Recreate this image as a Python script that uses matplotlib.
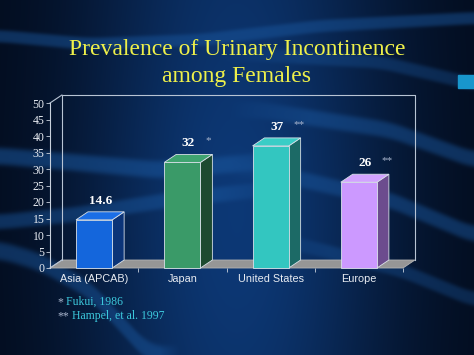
import numpy as np
import matplotlib
matplotlib.use("Agg")
import matplotlib.pyplot as plt
from matplotlib.patches import Polygon, Rectangle

categories = ["Asia (APCAB)", "Japan", "United States", "Europe"]
values = [14.6, 32, 37, 26]
value_labels = ["14.6", "32", "37", "26"]
markers = ["", "*", "**", "**"]
front_colors = ["#1466dc", "#3a9a68", "#33c6c0", "#cc99ff"]
side_colors = ["#0b3478", "#1d4a30", "#1c6a66", "#6c4c8e"]
top_colors = ["#1a6ee6", "#3fa470", "#3acdc6", "#d2a2ff"]
yticks = list(range(0, 55, 5))
title = "Prevalence of Urinary Incontinence\namong Females"
notes = [("*", " Fukui, 1986"), ("**", " Hampel, et al. 1997")]

W, H = 474, 355
fig = plt.figure(figsize=(W / 100, H / 100), dpi=100)

# ---------- background ----------
bg = fig.add_axes([0, 0, 1, 1])
bg.set_xlim(0, W)
bg.set_ylim(H, 0)
bg.axis("off")
X, Y = np.meshgrid(np.arange(W) + 0.5, np.arange(H) + 0.5)
xn, yn = X / W, Y / H
t = np.exp(-((xn - 0.5) / 0.33) ** 2) * (0.75 + 0.25 * np.exp(-((yn - 0.6) / 0.6) ** 2))
dark = np.array([0.01, 0.04, 0.10])
light = np.array([0.05, 0.22, 0.46])
img = dark[None, None, :] + (light - dark)[None, None, :] * t[..., None]
bandcol = np.array([0.10, 0.34, 0.62])

def band(pts, thick, strength, x0, x1, soft=40):
    global img
    px = np.array([p[0] for p in pts], float)
    py = np.array([p[1] for p in pts], float)
    xs = np.arange(W) + 0.5
    yc = np.interp(xs, px, py)
    k = np.ones(31) / 31
    yc = np.convolve(np.pad(yc, 15, mode="edge"), k, mode="valid")
    fade = np.clip((xs - x0) / soft + 1, 0, 1) * np.clip((x1 - xs) / soft + 1, 0, 1)
    prof = np.exp(-(np.abs(Y - yc[None, :]) / (thick / 2)) ** 4) * fade[None, :] * strength
    img = img + (bandcol[None, None, :] - img) * prof[..., None] * 0.6

band([(0, 36), (90, 44), (200, 40), (320, 26), (474, 18)], 13, 0.8, 0, 474, 60)
band([(0, 156), (70, 162), (160, 170), (260, 162), (340, 150)], 18, 0.9, 0, 230, 80)
band([(0, 222), (80, 214), (170, 200), (260, 190), (340, 185)], 16, 0.8, 0, 220, 80)
band([(0, 250), (40, 262), (90, 290), (150, 355)], 19, 0.8, 0, 160, 20)
band([(260, 55), (380, 62), (474, 84)], 14, 0.6, 300, 474, 80)
band([(260, 110), (390, 130), (474, 160)], 17, 0.8, 310, 474, 80)
band([(260, 170), (390, 200), (474, 235)], 17, 0.8, 310, 474, 80)
band([(280, 240), (400, 270), (474, 300)], 15, 0.6, 330, 474, 80)
bg.imshow(np.clip(img, 0, 1), extent=[0, W, H, 0], aspect="auto", zorder=0,
          interpolation="bilinear")
bg.add_patch(Rectangle((458, 75), 16, 13, color="#1896cc", zorder=2))

# ---------- title ----------
fig.text(0.5, 1 - 63 / H, title, ha="center", va="center", color="#eef04a",
         fontsize=17, family="Liberation Serif", linespacing=1.34)

# ---------- chart ----------
ax = fig.add_axes([50 / W, 1 - 268 / H, 353 / W, 165 / H])
ax.set_xlim(-0.5, 3.5)
ax.set_ylim(0, 50)
ax.patch.set_alpha(0)
for s in ["top", "right", "bottom"]:
    ax.spines[s].set_visible(False)
ax.spines["left"].set_color("#c8d0dc")
ax.spines["left"].set_linewidth(0.8)

dx, dy = 0.135, 2.42
wall = "#b8c4d4"
ax.add_patch(Polygon([(-0.5, 0), (3.5, 0), (3.5 + dx, dy), (-0.5 + dx, dy)],
                     closed=True, facecolor="#969696", edgecolor="#b4b4b4", lw=0.6,
                     clip_on=False, zorder=1))
ax.plot([-0.5 + dx, -0.5 + dx, 3.5 + dx, 3.5 + dx], [dy, 50 + dy, 50 + dy, dy],
        color=wall, lw=0.8, clip_on=False, zorder=1)
ax.plot([-0.5, -0.5 + dx], [50, 50 + dy], color=wall, lw=0.8, clip_on=False, zorder=1)
ax.plot([-0.5, -0.5 + dx], [0, dy], color=wall, lw=0.8, clip_on=False, zorder=1)

w = 0.41
for i, v in enumerate(values):
    l, r = i - w / 2, i + w / 2
    ax.add_patch(Polygon([(r, 0), (r + dx, dy), (r + dx, v + dy), (r, v)], closed=True,
                         facecolor=side_colors[i], edgecolor="#d8e0e8", lw=0.6,
                         clip_on=False, zorder=3))
    ax.add_patch(Polygon([(l, v), (r, v), (r + dx, v + dy), (l + dx, v + dy)], closed=True,
                         facecolor=top_colors[i], edgecolor="#d8e0e8", lw=0.6,
                         clip_on=False, zorder=3))
    ax.add_patch(Rectangle((l, 0), w, v, facecolor=front_colors[i], edgecolor="#d8e0e8",
                           lw=0.6, clip_on=False, zorder=4))
    ax.text(i + 0.07, v + 5.8, value_labels[i], ha="center", va="center", color="white",
            fontsize=9.5, fontweight="bold", family="Liberation Serif", zorder=5)
    if markers[i]:
        ax.text(i + 0.26, v + 6.5, markers[i], ha="left", va="center", color="#a8b4cc",
                fontsize=8, family="Liberation Serif", zorder=5)

ax.set_yticks(yticks)
ax.set_yticklabels([str(t) for t in yticks], family="Liberation Serif", fontsize=8.5,
                   color="#e8ecf2")
ax.tick_params(axis="y", colors="#c8d0dc", length=3, width=0.6, pad=1, labelcolor="#e8ecf2")
ax.set_xticks([0, 1, 2, 3])
ax.set_xticklabels(categories, family="Liberation Sans", fontsize=7.8, color="#e8ecf2")
ax.set_xticks([0.5, 1.5, 2.5, 3.5], minor=True)
ax.tick_params(axis="x", which="major", length=0, pad=4)
ax.tick_params(axis="x", which="minor", length=3, width=0.6, colors="#c8d0dc")

# ---------- footnotes ----------
for k, (star, txt) in enumerate(notes):
    yfig = 1 - (302 + 14 * k) / H
    t1 = fig.text(57 / W, yfig, star, color="#a8b4cc", fontsize=8.5,
                  family="Liberation Serif", va="center")
    fig.canvas.draw()
    bb = t1.get_window_extent()
    fig.text(bb.x1 / W, yfig, txt, color="#3cc8dc", fontsize=8.5,
             family="Liberation Serif", va="center")

fig.savefig("out.png", dpi=100)
